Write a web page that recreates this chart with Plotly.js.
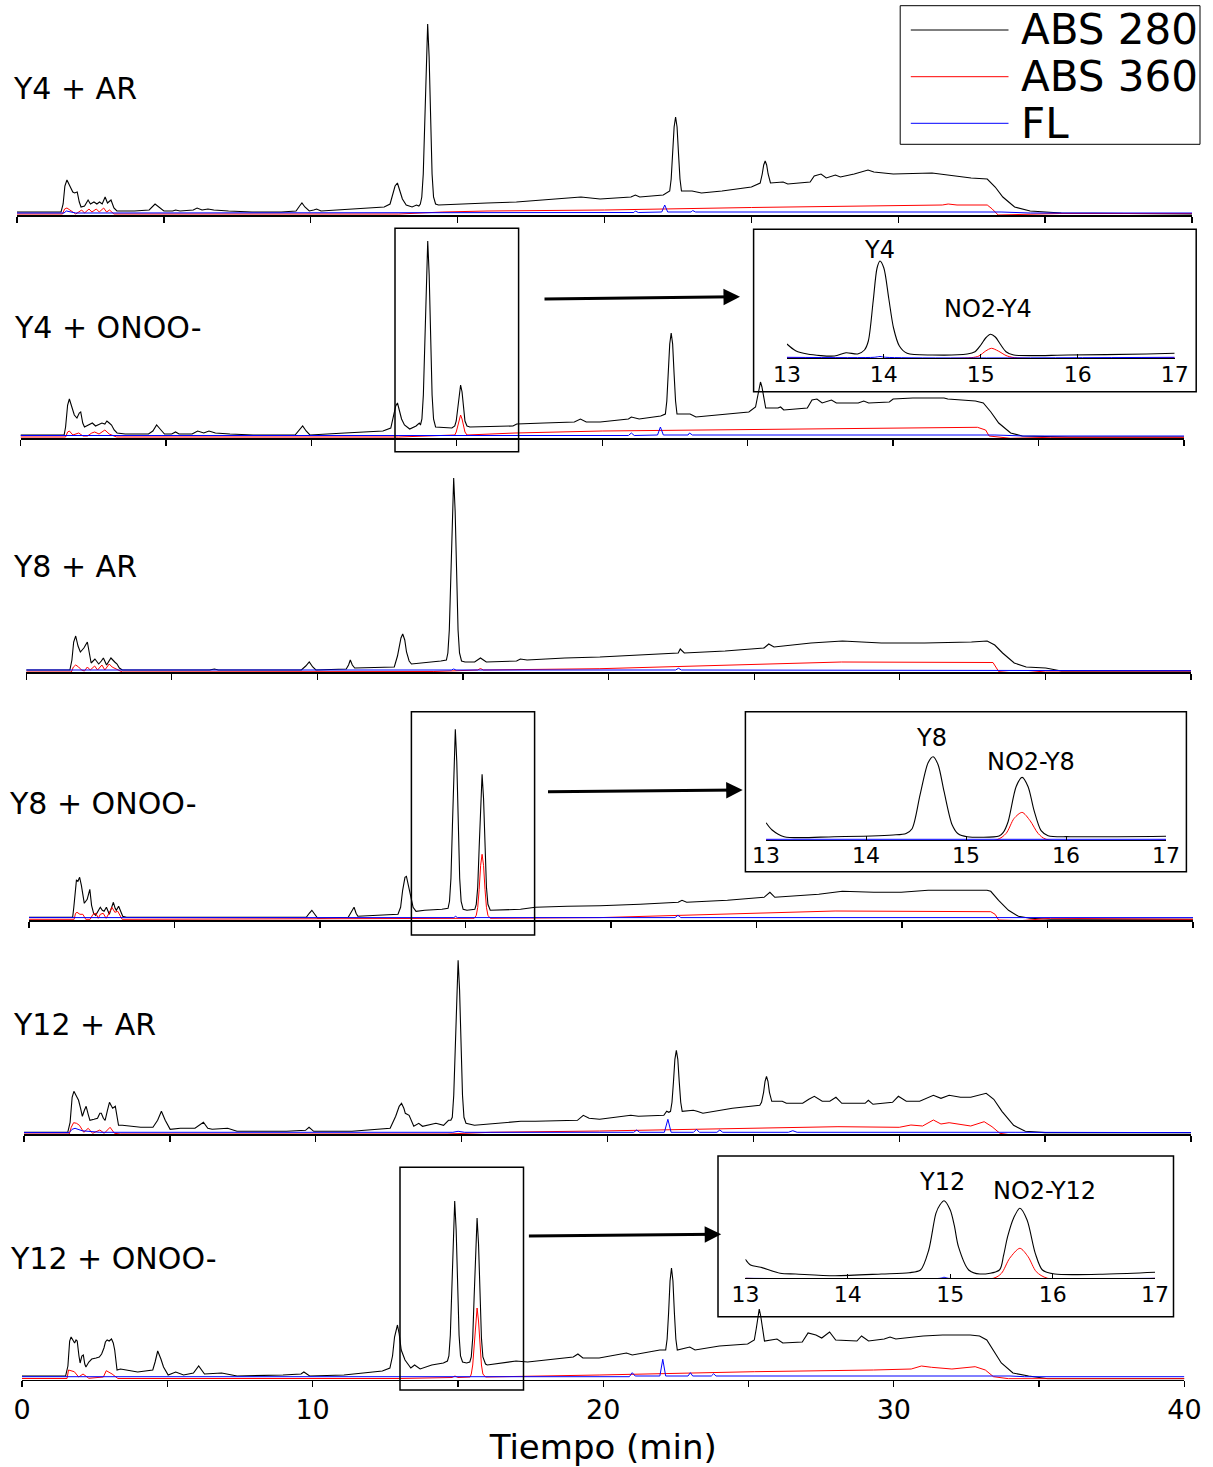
<!DOCTYPE html>
<html>
<head>
<meta charset="utf-8">
<script src="https://cdn.plot.ly/plotly-3.0.1.min.js"></script>
<style>
  html, body { margin: 0; padding: 0; background: #fff; }
  #chart { width: 1213px; height: 1467px; }
</style>
</head>
<body>
<div id="chart"></div>
<script>
// ---- Labels ----
const seriesNames = ['ABS 280', 'ABS 360', 'FL'];
const sampleNames = ['Y4 + AR', 'Y4 + ONOO-', 'Y8 + AR', 'Y8 + ONOO-', 'Y12 + AR', 'Y12 + ONOO-'];
const timeTicks = [0, 5, 10, 15, 20, 25, 30, 35, 40];
const timeTickText = ['0', '', '10', '', '20', '', '30', '', '40'];
const zoomTicks = [13, 14, 15, 16, 17];
const zoomTickText = ['13', '14', '15', '16', '17'];
const zoomPeakNames = [['Y4', 'NO2-Y4'], ['Y8', 'NO2-Y8'], ['Y12', 'NO2-Y12']];
const axisTitle = 'Tiempo (min)';

// ---- Chromatograms: [time (min), signal (mAU above baseline)] ----
// Y4 + AR
const y4ar_abs280 = [[0,0],[1.5,0],[1.57,8],[1.63,26],[1.7,32],[1.78,27],[1.9,20],[1.96,19],[2.05,20],[2.12,10],[2.18,5],[2.3,6],[2.42,12],[2.5,8],[2.62,10],[2.72,8],[2.81,10],[2.9,8],[3.0,15],[3.08,9],[3.2,12],[3.3,4],[3.4,1],[4.0,1],[4.5,2],[4.7,8],[4.85,4],[5.0,1],[5.3,1],[5.4,2],[5.55,1],[6.0,2],[6.13,4],[6.3,2],[6.5,3],[6.7,2],[7.2,1],[8.0,0],[9.0,0],[9.5,1],[9.62,6],[9.7,9],[9.8,5],[9.95,1],[10.1,2],[10.2,3],[10.35,1],[11.0,2],[11.5,3],[12.0,4],[12.5,5],[12.7,8],[12.8,18],[12.87,26],[12.95,29],[13.03,22],[13.12,13],[13.25,7],[13.45,5],[13.6,7],[13.68,6],[13.73,8],[13.78,15],[13.83,38],[13.88,90],[13.93,155],[13.98,188],[14.03,155],[14.08,90],[14.13,38],[14.18,15],[14.25,8],[14.35,7],[15.05,8],[16.0,9],[17.0,10],[18.0,12],[19.2,15],[19.85,13],[20.9,15],[21.05,17],[21.2,15],[22.0,17],[22.1,19],[22.22,21],[22.27,33],[22.32,58],[22.37,85],[22.42,95],[22.47,85],[22.52,58],[22.57,33],[22.62,21],[22.98,21],[23.3,19],[24.0,21],[25.0,25],[25.3,29],[25.37,38],[25.42,47],[25.47,51],[25.52,47],[25.57,38],[25.65,29],[26.08,30],[26.24,28],[27.0,30],[27.14,36],[27.37,38],[27.55,34],[27.86,37],[28.03,35],[28.5,38],[28.97,42],[29.17,40],[29.83,38],[31.15,39],[31.7,37],[32.48,34],[33.03,33],[33.3,25],[33.56,15],[33.96,5],[34.49,1],[35.55,-1],[40,-2]];
const y4ar_abs360 = [[0,-2],[1.55,-2],[1.62,3],[1.7,4],[1.8,2],[1.9,0],[2.0,-2],[2.2,2],[2.3,-1],[2.45,3],[2.55,0],[2.7,3],[2.8,0],[2.95,4],[3.05,0],[3.15,2],[3.3,-2],[13.0,-2],[14.5,0],[16.0,1],[20.0,2],[25.0,4.5],[28.0,6],[31.5,7],[31.7,8],[32.0,7],[33.03,7],[33.2,3],[33.4,-3],[34.5,-2.5],[35.5,-1.5],[40,-1.5]];
const y4ar_fl = [[0,-1],[1.6,-1],[1.68,1],[1.8,0],[2.0,-1],[21.0,-0.5],[21.05,1],[21.15,-0.5],[21.95,0],[22.05,7],[22.15,0],[22.95,0],[23.0,1.5],[23.1,0],[33.5,0],[34.5,-1],[40,-1]];

// Y4 + ONOO-
const y4onoo_abs280 = [[0,0],[1.5,0],[1.55,8],[1.62,30],[1.68,36],[1.75,30],[1.85,20],[1.94,17],[2.02,22],[2.07,23],[2.14,12],[2.2,8],[2.35,10],[2.47,12],[2.58,9],[2.67,10],[2.8,12],[2.9,11],[2.97,14],[3.05,12],[3.13,10],[3.22,5],[3.32,2],[3.6,1],[4.4,1],[4.55,4],[4.68,10],[4.8,6],[4.95,1],[5.2,1],[5.33,3],[5.45,1],[5.9,1],[6.09,4],[6.3,2],[6.48,4],[6.7,2],[7.2,1],[8.0,0],[9.44,0],[9.55,4],[9.7,9],[9.82,4],[9.95,0],[11.15,2],[12.0,3],[12.46,4],[12.73,7],[12.82,18],[12.9,29],[12.96,32],[13.03,24],[13.1,16],[13.2,10],[13.38,6],[13.6,9],[13.71,12],[13.75,10],[13.8,16],[13.85,40],[13.9,94],[13.95,160],[14.0,194],[14.05,160],[14.1,94],[14.15,40],[14.2,16],[14.27,8],[14.83,7],[14.93,9],[14.98,14],[15.03,27],[15.08,43],[15.13,50],[15.18,43],[15.23,27],[15.28,14],[15.35,9],[15.45,8],[16.93,9],[17.06,11],[18.0,12],[19.04,13],[19.25,16],[19.45,13],[19.93,13],[20.9,16],[21.0,18],[21.27,16],[22.01,19],[22.17,21],[22.22,34],[22.27,61],[22.32,91],[22.37,102],[22.42,91],[22.47,61],[22.52,34],[22.57,21],[23.02,21],[23.22,18],[24.0,20],[25.04,23],[25.27,28],[25.34,38],[25.39,48],[25.44,53],[25.49,48],[25.54,38],[25.62,27],[26.04,27],[26.13,28],[26.24,25],[27.05,27],[27.21,35],[27.38,36],[27.56,32],[27.88,35],[28.05,32],[28.8,32],[28.99,34],[29.16,32],[29.87,33],[30.0,36],[30.68,37],[31.75,37],[31.88,36],[32.83,34],[33.1,32],[33.36,23],[33.63,12],[34.04,2],[34.44,-1],[36.05,-2],[40,-2]];
const y4onoo_abs360 = [[0,-2],[1.55,-2],[1.62,3],[1.68,4],[1.8,0],[2.0,2],[2.15,-1],[2.3,-1],[2.45,2],[2.55,3],[2.7,1],[2.9,5],[3.05,1],[3.3,-2],[13.0,-2],[14.5,-1],[14.93,0],[14.98,3],[15.03,9],[15.08,16],[15.13,20],[15.18,16],[15.23,9],[15.28,3],[15.35,0],[17.0,2],[20.0,4],[25.0,5.7],[31.3,7.7],[32.9,7.7],[33.18,5],[33.3,-1],[34.04,-3.3],[35.4,-2.3],[40,-2.3]];
const y4onoo_fl = [[0,-0.5],[20.9,-0.5],[21.0,2],[21.1,-0.5],[21.9,0],[22.0,8],[22.1,0],[22.95,0],[23.0,2],[23.1,0],[33.5,0],[34.5,-1],[40,-1]];

// Y8 + AR
const y8ar_abs280 = [[0,0],[1.5,0],[1.57,10],[1.63,28],[1.7,34],[1.78,24],[1.86,18],[1.98,22],[2.1,28],[2.17,18],[2.23,7],[2.36,11],[2.49,6],[2.58,9],[2.65,12],[2.76,5],[2.85,9],[2.91,12],[3.04,8],[3.12,6],[3.2,2],[3.3,0],[6.3,0],[6.46,1],[6.6,0],[9.45,0],[9.6,4],[9.72,8],[9.84,3],[9.95,0],[10.99,1],[11.07,5],[11.13,10],[11.2,5],[11.28,2],[12.3,3],[12.64,3],[12.75,14],[12.87,32],[12.93,36],[13.0,30],[13.06,18],[13.15,9],[13.23,6],[13.56,7],[14.08,8],[14.24,9],[14.43,10],[14.48,17],[14.53,40],[14.58,93],[14.63,159],[14.68,192],[14.73,159],[14.78,93],[14.83,40],[14.88,17],[14.95,9],[15.07,8],[15.4,8],[15.6,12],[15.8,8],[16.84,9],[16.97,11],[17.2,10],[18.5,12],[19.7,13],[21.0,15],[22.39,17],[22.46,21],[22.6,17],[24.0,19],[25.34,22],[25.5,26],[25.68,23],[26.95,27],[28.03,29],[29.37,27],[30.85,27],[32.46,28],[33.0,29],[33.26,25],[33.53,17],[33.93,7],[34.34,3],[35.01,2],[35.55,-1],[40,-1]];
const y8ar_abs360 = [[0,-2],[1.55,-2],[1.62,3],[1.7,5],[1.8,3],[1.9,0],[2.0,-1],[2.1,3],[2.2,0],[2.35,4],[2.45,0],[2.6,5],[2.7,0],[2.85,6],[2.95,3],[3.1,1],[3.3,-2],[14.0,-1.5],[15.5,0],[15.6,1.5],[15.7,0],[19.7,1.3],[28.0,8],[33.2,7.5],[33.4,-1.7],[34.1,-3.3],[35.0,-1],[40,-1]];
const y8ar_fl = [[0,0],[14.6,0],[14.68,1],[14.76,0],[22.3,0],[22.4,1.7],[22.5,0],[34.0,0],[35.5,-0.7],[40,-0.7]];

// Y8 + ONOO-
const y8onoo_abs280 = [[0,0],[1.5,0],[1.54,10],[1.6,32],[1.63,37],[1.68,36],[1.74,40],[1.8,32],[1.9,14],[2.0,18],[2.09,28],[2.15,12],[2.22,4],[2.29,2],[2.36,6],[2.45,10],[2.52,7],[2.58,6],[2.66,10],[2.72,6],[2.76,3],[2.84,10],[2.9,15],[2.96,9],[3.0,7],[3.08,11],[3.15,5],[3.22,1],[3.35,0],[9.53,0],[9.63,4],[9.72,7],[9.82,3],[9.92,-1],[10.97,0],[11.07,5],[11.17,10],[11.24,4],[11.3,1],[12.68,3],[12.77,10],[12.84,27],[12.92,40],[12.97,41],[13.04,32],[13.1,22],[13.2,10],[13.3,6],[13.6,7],[14.19,8],[14.32,9],[14.4,9],[14.45,16],[14.5,39],[14.55,91],[14.6,156],[14.65,188],[14.7,156],[14.75,91],[14.8,39],[14.85,16],[14.92,8],[15.05,7],[15.32,8],[15.37,13],[15.42,30],[15.47,70],[15.52,119],[15.57,143],[15.62,119],[15.67,70],[15.72,30],[15.77,13],[15.85,7],[16.89,8],[17.4,10],[18.5,11],[19.62,11.5],[21.0,13],[22.31,15],[22.44,17],[22.6,15],[24.0,17],[25.26,20],[25.46,25],[25.63,20],[27.14,23],[27.95,26],[29.03,25],[29.97,25],[30.9,27],[32.92,27],[33.05,26],[33.32,17],[33.66,7],[34.0,1],[34.4,-1],[35.1,-2],[40,-2]];
const y8onoo_abs360 = [[0,-2],[1.55,-2],[1.6,4],[1.65,5],[1.75,3],[1.85,3],[1.95,-2],[2.1,-2],[2.2,3],[2.3,4],[2.38,-1],[2.45,3],[2.55,4],[2.65,-1],[2.75,4],[2.85,10],[2.95,5],[3.05,6],[3.2,-2],[15.3,-1],[15.37,2],[15.42,10],[15.47,28],[15.52,52],[15.57,63],[15.62,52],[15.67,28],[15.72,10],[15.77,2],[15.85,-1],[19.62,-0.3],[27.7,6.3],[33.05,5.6],[33.2,3],[33.32,-2.7],[34.1,-3.3],[35.1,-1],[40,-2]];
const y8onoo_fl = [[0,-0.3],[14.6,-0.3],[14.66,1],[14.72,-0.3],[22.2,-0.3],[22.3,2],[22.4,-0.3],[40,-0.3]];

// Y12 + AR
const y12ar_abs280 = [[0,0],[1.5,0],[1.58,10],[1.65,35],[1.71,41],[1.8,36],[1.87,32],[1.94,24],[2.0,16],[2.07,22],[2.13,26],[2.2,18],[2.26,12],[2.4,13],[2.52,14],[2.6,19],[2.65,19],[2.72,14],[2.78,12],[2.86,22],[2.93,30],[3.0,26],[3.04,24],[3.13,26],[3.19,15],[3.24,7],[3.37,7],[4.0,5],[4.42,5],[4.58,12],[4.71,21],[4.84,12],[5.01,3],[5.36,4],[5.86,4],[6.0,7],[6.15,10],[6.3,4],[6.45,3],[6.98,4],[7.3,1],[9.0,1],[9.65,2],[9.77,5],[9.93,1],[11.24,1],[12.55,4],[12.74,16],[12.86,26],[12.94,29],[13.02,24],[13.07,19],[13.2,17],[13.36,6],[13.53,9],[13.66,6],[14.12,9],[14.38,7],[14.55,12],[14.63,12],[14.68,15],[14.73,37],[14.78,83],[14.83,142],[14.88,172],[14.93,142],[14.98,83],[15.03,37],[15.08,15],[15.15,9],[15.44,7],[16.87,10],[17.03,11],[17.53,11],[18.97,12],[19.17,17],[19.37,14],[19.73,13],[20.8,17],[21.06,16],[21.93,17],[22.03,21],[22.1,20],[22.16,21],[22.21,30],[22.26,50],[22.31,73],[22.36,82],[22.41,73],[22.46,50],[22.51,30],[22.56,21],[22.94,22],[23.07,21],[23.27,19],[24.28,24],[25.22,27],[25.28,30],[25.35,40],[25.4,51],[25.45,56],[25.5,51],[25.55,40],[25.63,31],[25.99,31],[26.13,29],[26.69,29],[26.9,33],[27.09,36],[27.36,31],[27.62,31],[27.83,35],[28.03,29],[28.83,29],[28.94,32],[29.1,28],[29.77,30],[29.97,36],[30.24,31],[30.7,31],[31.17,37],[31.43,34],[31.71,37],[32.1,35],[32.45,35],[32.98,39],[33.24,33],[33.52,21],[33.92,7],[34.32,1],[35.0,-0.3],[40,-0.3]];
const y12ar_abs360 = [[0,-1.7],[1.55,-1.7],[1.62,5],[1.7,9.6],[1.8,9],[1.9,7],[2.05,0],[2.2,4],[2.35,-1],[2.6,2.3],[2.75,-1],[2.95,5],[3.1,-1],[3.3,-1.7],[14.5,-1.7],[16.0,0],[19.73,1.3],[27.9,5.6],[30.0,5],[30.4,7.3],[30.8,6.3],[31.17,12.3],[31.43,8.3],[31.71,9.6],[32.45,6.3],[32.91,10.6],[33.18,5.6],[33.45,-1],[33.92,-3],[35.0,-2.3],[40,-2.3]];
const y12ar_fl = [[0,-0.3],[1.55,-0.3],[1.65,3],[1.75,4],[2.0,1.5],[2.3,0.6],[2.6,0],[14.7,0],[14.88,1],[15.1,0],[20.9,0],[21.0,2.3],[21.1,0],[21.95,0],[22.07,13],[22.18,0],[22.95,0],[23.05,3],[23.15,0],[23.75,0],[23.85,2.3],[23.95,0],[26.2,0],[26.35,1.6],[26.5,0],[34.0,0],[40,-0.3]];

// Y12 + ONOO-
const y12onoo_abs280 = [[0,0],[1.5,0],[1.58,10],[1.64,35],[1.69,39],[1.75,36],[1.81,33],[1.86,36],[1.9,35],[1.96,20],[2.0,13],[2.06,20],[2.11,21],[2.16,12],[2.2,9],[2.3,14],[2.4,17],[2.55,18],[2.66,19],[2.74,22],[2.82,28],[2.87,34],[2.93,36],[3.0,35],[3.08,37],[3.14,33],[3.19,26],[3.27,6],[3.39,7],[3.98,4],[4.5,6],[4.58,14],[4.67,25],[4.78,17],[4.87,9],[5.03,1],[5.29,4],[5.56,1],[5.9,3],[6.08,10],[6.2,5],[6.28,2],[6.87,3],[7.4,0],[8.98,1],[9.6,2],[9.7,4],[9.8,2],[9.9,0],[11.08,1],[12.4,5],[12.66,8],[12.75,20],[12.82,39],[12.92,51],[12.98,42],[13.05,26],[13.18,16],[13.38,8],[13.51,11],[13.7,7],[14.1,11],[14.5,13],[14.64,15],[14.69,20],[14.74,41],[14.79,87],[14.84,146],[14.89,175],[14.94,146],[14.99,87],[15.04,41],[15.09,20],[15.16,14],[15.3,13],[15.41,14],[15.46,19],[15.51,38],[15.56,80],[15.61,132],[15.66,158],[15.71,132],[15.76,80],[15.81,38],[15.86,19],[15.95,12],[16.01,11],[16.87,14],[17.0,15],[17.4,14],[18.0,16],[18.97,19],[19.13,22],[19.3,18],[19.86,18],[20.8,23],[21.0,21],[21.95,26],[22.15,26],[22.2,37],[22.25,63],[22.3,95],[22.35,108],[22.4,95],[22.45,63],[22.5,37],[22.55,26],[22.98,29],[23.16,26],[24.0,30],[24.97,32],[25.2,36],[25.27,48],[25.32,60],[25.37,67],[25.42,60],[25.47,48],[25.55,35],[25.98,37],[26.18,33],[26.85,34],[27.05,43],[27.32,41],[27.52,38],[27.79,44],[28.0,36],[28.73,35],[28.89,40],[29.13,35],[29.67,37],[29.87,39],[30.07,37],[31.01,40],[31.68,41],[32.63,41],[32.95,40],[33.2,36],[33.43,26],[33.7,13],[34.1,3],[34.64,0],[35.3,-2.7],[40,-2.7]];
const y12onoo_abs360 = [[0,-2.5],[1.55,-2.5],[1.6,6],[1.7,5],[1.8,4.3],[1.95,-1],[2.1,2],[2.3,-2.3],[2.8,-1],[2.9,5.3],[3.0,4],[3.1,2],[3.3,-2.5],[13.0,-2.5],[14.8,-1.5],[14.9,0],[15.0,-1.5],[15.42,-1],[15.46,2],[15.51,11],[15.56,30],[15.61,55],[15.66,68],[15.71,55],[15.76,30],[15.81,11],[15.86,2],[15.95,-1],[19.86,1],[25.2,4.3],[29.3,6],[30.6,7],[30.95,10],[31.3,8.7],[32.0,7],[32.8,9.3],[33.15,6],[33.43,-0.7],[33.95,-2.7],[40,-2.7]];
const y12onoo_fl = [[0,-0.7],[20.9,-0.7],[21.0,3.3],[21.1,0],[21.95,0],[22.05,16.7],[22.15,0],[22.92,0],[23.0,3.3],[23.08,0],[23.72,0],[23.8,2.3],[23.88,0],[27.2,0],[27.3,0.7],[27.4,0],[34.0,0],[34.5,-0.7],[40,-0.7]];

// Expanded 13-17 min windows of the nitration runs
const zoomY4_abs280 = [[13.0,12],[13.09,5.3],[13.21,2],[13.49,0],[13.61,3.3],[13.73,2],[13.8,6],[13.84,15],[13.89,55],[13.93,88],[13.96,95],[14.0,88],[14.05,58],[14.1,28],[14.16,10],[14.24,2.7],[14.5,1],[14.86,2],[14.94,4.3],[15.0,11],[15.05,18],[15.1,21.7],[15.15,19],[15.2,12],[15.26,4.3],[15.34,1],[15.9,1],[16.71,2],[17.0,2.7]];
const zoomY4_abs360 = [[13.0,-1.7],[14.9,-1.7],[14.98,0],[15.05,5],[15.11,7.7],[15.18,5],[15.26,0.5],[15.35,-1.7],[17.0,-1.7]];
const zoomY4_fl = [[13.0,-1.3],[13.9,-1.3],[13.96,-0.5],[14.02,-1.3],[17.0,-1.3]];

const zoomY8_abs280 = [[13.0,14],[13.06,6.7],[13.18,0],[13.68,0],[14.27,1.7],[14.4,3.3],[14.46,8],[14.54,42],[14.62,74],[14.67,80],[14.72,72],[14.78,45],[14.86,12],[14.92,3],[15.01,0],[15.33,0.7],[15.37,4],[15.42,15],[15.5,50],[15.56,59.3],[15.62,50],[15.68,26],[15.75,6],[15.82,1],[16.04,0],[17.0,0.5]];
const zoomY8_abs360 = [[13.0,-3.3],[15.3,-3.3],[15.4,3.3],[15.48,18.3],[15.56,24.3],[15.64,16],[15.72,3.3],[15.8,-2.6],[17.0,-3.3]];
const zoomY8_fl = [[13.0,-2.6],[17.0,-2.6]];

const zoomY12_abs280 = [[13.0,16.4],[13.05,10.7],[13.15,8.4],[13.34,2.4],[13.49,1.7],[13.87,0],[14.33,1.7],[14.6,3],[14.71,5.7],[14.79,25.7],[14.86,62.4],[14.9,71],[14.94,75],[15.0,65.7],[15.04,50],[15.08,29],[15.18,5.7],[15.29,1.7],[15.48,5.7],[15.52,20],[15.56,39],[15.62,58],[15.68,67.4],[15.75,55.7],[15.83,22.4],[15.9,5.7],[16.02,1.7],[16.55,1.7],[17.0,3.4]];
const zoomY12_abs360 = [[13.0,-2.6],[15.42,-2.6],[15.5,2.4],[15.58,17.4],[15.68,27.4],[15.76,19],[15.84,4],[15.95,-2.6],[17.0,-2.6]];
const zoomY12_fl = [[13.0,-2.6],[14.9,-2.6],[14.94,-1.6],[14.98,-2.6],[17.0,-2.6]];

// ---- Assembly ----
const W = 1213, H = 1467;
const FONT = 'DejaVu Sans, Liberation Sans, Arial, sans-serif';
const COLORS = ['#000000', '#ff0000', '#0000ff'];
const WIDTHS = [1.1, 1.0, 1.0];
const px = v => v / W;
const py = v => 1 - v / H;

const panelSeries = [
  [y4ar_abs280, y4ar_abs360, y4ar_fl],
  [y4onoo_abs280, y4onoo_abs360, y4onoo_fl],
  [y8ar_abs280, y8ar_abs360, y8ar_fl],
  [y8onoo_abs280, y8onoo_abs360, y8onoo_fl],
  [y12ar_abs280, y12ar_abs360, y12ar_fl],
  [y12onoo_abs280, y12onoo_abs360, y12onoo_fl]
];
const zoomSeries = [
  [zoomY4_abs280, zoomY4_abs360, zoomY4_fl],
  [zoomY8_abs280, zoomY8_abs360, zoomY8_fl],
  [zoomY12_abs280, zoomY12_abs360, zoomY12_fl]
];

// Panel geometry in page pixels: axis line, baseline lift, x extent, label anchor
const panelGeom = [
  {axisY: 215,    lift: 3,   x0: 17,   x1: 1192,   label: [11, 88]},
  {axisY: 438,    lift: 3,   x0: 20.5, x1: 1184,   label: [12, 327]},
  {axisY: 672,    lift: 2,   x0: 26.2, x1: 1191,   label: [10.5, 566]},
  {axisY: 920,    lift: 2.7, x0: 29,   x1: 1193,   label: [6.5, 803]},
  {axisY: 1134,   lift: 1.7, x0: 24,   x1: 1191,   label: [10.5, 1024]},
  {axisY: 1379.5, lift: 3.5, x0: 22,   x1: 1184.4, label: [7.5, 1258]}
];
const PANEL_SPAN = 210;

// Inset geometry: plot area, frame, selection box, arrow, peak labels
const zoomGeom = [
  {axisY: 358.3, lift: 2.3, x0: 786.9, x1: 1174.7,
   frame: [753.6, 229.3, 1196.2, 391.7], sel: [395, 228.3, 518.6, 451.7],
   arrow: [543, 299, 740, 296.7], labels: [[879, 250], [988, 309]]},
  {axisY: 840, lift: 3.3, x0: 766.1, x1: 1166.1,
   frame: [745.4, 711.7, 1186.4, 871.7], sel: [411.4, 711.7, 534.6, 935],
   arrow: [546.5, 791.7, 742.7, 790], labels: [[932, 738], [1031, 761.5]]},
  {axisY: 1278.3, lift: 2.6, x0: 745.4, x1: 1155.1,
   frame: [718, 1156, 1173.5, 1316.7], sel: [400, 1167.3, 523.5, 1390],
   arrow: [527.4, 1236, 721.2, 1234.3], labels: [[942, 1181.5], [1044, 1190.5]]}
];
const ZOOM_SPAN = 115;

const traces = [];
const layout = {
  width: W, height: H,
  margin: {l: 0, r: 0, t: 0, b: 0},
  paper_bgcolor: '#ffffff',
  plot_bgcolor: 'rgba(0,0,0,0)',
  showlegend: false,
  hovermode: false,
  font: {family: FONT, color: '#000000'},
  shapes: [],
  annotations: []
};

function axisKey(n) { return n === 1 ? '' : String(n); }

panelGeom.forEach((g, i) => {
  const n = i + 1, k = axisKey(n);
  panelSeries[i].forEach((pts, s) => {
    traces.push({
      x: pts.map(p => p[0]), y: pts.map(p => p[1]),
      xaxis: 'x' + k, yaxis: 'y' + k,
      type: 'scatter', mode: 'lines', name: seriesNames[s],
      line: {color: COLORS[s], width: WIDTHS[s]},
      hoverinfo: 'skip', showlegend: false
    });
  });
  const last = i === panelGeom.length - 1;
  layout['xaxis' + k] = {
    domain: [px(g.x0), px(g.x1)], range: [0, 40], anchor: 'y' + k,
    showline: true, linecolor: '#000', linewidth: 1.5, mirror: false,
    ticks: 'outside', ticklen: 6, tickwidth: 1.3, tickcolor: '#000',
    tickmode: 'array', tickvals: timeTicks, ticktext: timeTickText,
    showticklabels: last, tickfont: {size: 27, family: FONT},
    ticklabelstandoff: 0,
    showgrid: false, zeroline: false, fixedrange: true, automargin: false,
    title: last ? {text: axisTitle, font: {size: 34, family: FONT}, standoff: 14} : {text: ''}
  };
  layout['yaxis' + k] = {
    domain: [py(g.axisY), py(g.axisY - PANEL_SPAN)],
    range: [-g.lift, PANEL_SPAN - g.lift], anchor: 'x' + k,
    visible: false, fixedrange: true
  };
  layout.annotations.push({
    xref: 'paper', yref: 'paper', x: px(g.label[0]), y: py(g.label[1]),
    xanchor: 'left', yanchor: 'middle', showarrow: false,
    text: sampleNames[i], font: {size: 30, family: FONT, color: '#000'}
  });
});

zoomGeom.forEach((g, j) => {
  const n = 7 + j, k = axisKey(n);
  zoomSeries[j].forEach((pts, s) => {
    traces.push({
      x: pts.map(p => p[0]), y: pts.map(p => p[1]),
      xaxis: 'x' + k, yaxis: 'y' + k,
      type: 'scatter', mode: 'lines', name: seriesNames[s],
      line: {color: COLORS[s], width: WIDTHS[s], shape: 'spline', smoothing: 0.8},
      hoverinfo: 'skip', showlegend: false
    });
  });
  layout['xaxis' + k] = {
    domain: [px(g.x0), px(g.x1)], range: [13, 17], anchor: 'y' + k,
    showline: true, linecolor: '#000', linewidth: 1,
    ticks: 'inside', ticklen: 4, tickwidth: 1, tickcolor: '#000',
    tickmode: 'array', tickvals: zoomTicks, ticktext: zoomTickText,
    tickfont: {size: 22, family: FONT},
    ticklabelstandoff: -4,
    showgrid: false, zeroline: false, fixedrange: true, automargin: false
  };
  layout['yaxis' + k] = {
    domain: [py(g.axisY), py(g.axisY - ZOOM_SPAN)],
    range: [-g.lift, ZOOM_SPAN - g.lift], anchor: 'x' + k,
    visible: false, fixedrange: true
  };
  // frame around the expanded view and the selection it comes from
  [g.frame, g.sel].forEach(r => layout.shapes.push({
    type: 'rect', xref: 'paper', yref: 'paper',
    x0: px(r[0]), y0: py(r[1]), x1: px(r[2]), y1: py(r[3]),
    line: {color: '#000', width: 1.5}, fillcolor: 'rgba(0,0,0,0)', layer: 'above'
  }));
  layout.annotations.push({
    xref: 'paper', yref: 'paper', axref: 'paper', ayref: 'paper',
    x: px(g.arrow[2]), y: py(g.arrow[3]), ax: px(g.arrow[0]), ay: py(g.arrow[1]),
    text: '', showarrow: true, arrowhead: 2, arrowsize: 1.1, arrowwidth: 3,
    arrowcolor: '#000', standoff: 0, startstandoff: 0
  });
  g.labels.forEach((pos, m) => layout.annotations.push({
    xref: 'paper', yref: 'paper', x: px(pos[0]), y: py(pos[1]),
    xanchor: 'center', yanchor: 'middle', showarrow: false,
    text: zoomPeakNames[j][m], font: {size: 24, family: FONT, color: '#000'}
  }));
});

// Legend box with long line samples
const legendBox = [900.2, 5.7, 1200, 144.3];
const legendRows = [30, 76.7, 123.3];
layout.shapes.push({
  type: 'rect', xref: 'paper', yref: 'paper',
  x0: px(legendBox[0]), y0: py(legendBox[1]), x1: px(legendBox[2]), y1: py(legendBox[3]),
  line: {color: '#000', width: 1}, fillcolor: 'rgba(0,0,0,0)', layer: 'above'
});
seriesNames.forEach((name, s) => {
  layout.shapes.push({
    type: 'line', xref: 'paper', yref: 'paper',
    x0: px(910.8), x1: px(1008.5), y0: py(legendRows[s]), y1: py(legendRows[s]),
    line: {color: COLORS[s], width: 1}
  });
  layout.annotations.push({
    xref: 'paper', yref: 'paper', x: px(1019), y: py(legendRows[s]),
    xanchor: 'left', yanchor: 'middle', showarrow: false,
    text: name, font: {size: 42, family: FONT, color: '#000'}
  });
});

Plotly.newPlot('chart', traces, layout, {staticPlot: true, displayModeBar: false});
</script>
</body>
</html>
